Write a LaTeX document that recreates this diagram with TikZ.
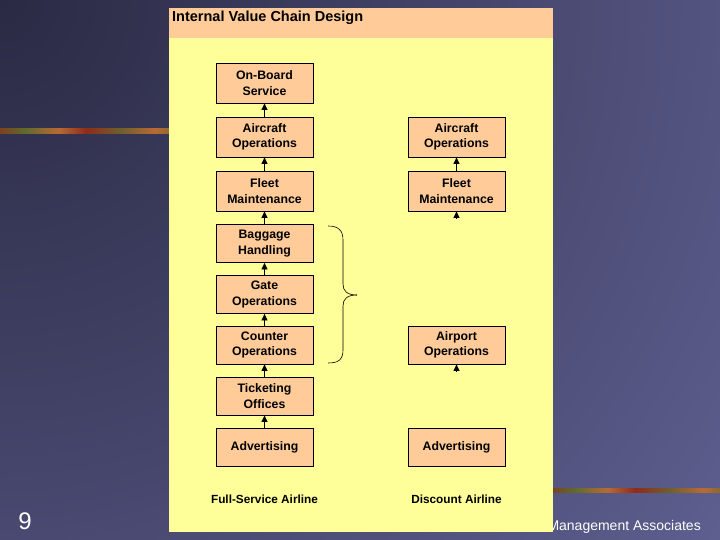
\documentclass[tikz,border=0pt]{standalone}
\usepackage{fontspec}
\setmainfont{Liberation Sans}
\usetikzlibrary{arrows.meta}
\definecolor{bgdark}{HTML}{2A2A44}
\definecolor{bgpurple}{HTML}{646498}
\definecolor{panelyellow}{HTML}{FFFF99}
\definecolor{peach}{HTML}{FFCC99}
\definecolor{sa}{HTML}{A8662E}
\definecolor{sb}{HTML}{6E5E2E}
\definecolor{sc}{HTML}{8E2C1A}
\definecolor{sd}{HTML}{5E6A2C}
\definecolor{se}{HTML}{B86A34}
\definecolor{sf}{HTML}{7A3B20}
\pgfdeclarehorizontalshading{stripshade}{100bp}{color(0bp)=(sa); color(12bp)=(sb); color(22bp)=(sc); color(32bp)=(sd); color(42bp)=(se); color(50bp)=(sc); color(60bp)=(sb); color(70bp)=(se); color(80bp)=(sd); color(90bp)=(sf); color(100bp)=(sa)}
\tikzset{
  chainbox/.style={draw=black, line width=0.8pt, fill=peach, minimum width=97pt, minimum height=38pt, inner sep=0pt, align=center, font=\bfseries\fontsize{12.3}{15.5}\selectfont},
  tallbox/.style={chainbox, minimum height=40pt},
  uparr/.style={draw=black, line width=0.8pt, -{Triangle[width=6pt,length=6.5pt]}},
  airlabel/.style={font=\bfseries\fontsize{11.8}{14}\selectfont, inner sep=0pt},
}
\begin{document}
\begin{tikzpicture}[x=1pt,y=-1pt]
\useasboundingbox (0,0) rectangle (720,540);
% background
\fill[bgpurple] (0,0) rectangle (720,540);
\begin{scope}
\clip (0,0) rectangle (720,540);
\shade[inner color=bgdark, outer color=bgpurple] (0,0) circle (1000);
\end{scope}
% decorative strips
\shade[shading=stripshade] (0,129) rectangle (172,134);
\shade[shading=stripshade] (550,488) rectangle (720,492);
% footer
\node[text=white, font=\fontsize{24}{28}\selectfont, inner sep=0pt, anchor=base] (pagenum) at (25,529) {9};
\node[text=white, font=\fontsize{14}{16}\selectfont, inner sep=0pt, anchor=base east] (footer) at (701,530) {Management Associates};
% panel
\fill[panelyellow] (169,8) rectangle (553,532);
\fill[peach] (169,8) rectangle (553,38);
\node[anchor=base west, inner sep=0pt, font=\bfseries\fontsize{14.5}{16}\selectfont] (title) at (172,22) {Internal Value Chain Design};
% left column
\node[tallbox] (ob) at (264.5,83) {On-Board\\Service};
\node[tallbox] (ao) at (264.5,137) {Aircraft\\Operations};
\node[tallbox] (fm) at (264.5,191) {Fleet\\Maintenance};
\node[chainbox] (bh) at (264.5,243.5) {Baggage\\Handling};
\node[chainbox] (go) at (264.5,294.5) {Gate\\Operations};
\node[chainbox] (co) at (264.5,345) {Counter\\Operations};
\node[chainbox] (to) at (264.5,396) {Ticketing\\Offices};
\node[chainbox] (ad) at (264.5,447) {Advertising};
\draw[uparr] (ao.north) -- (ob.south);
\draw[uparr] (fm.north) -- (ao.south);
\draw[uparr] (bh.north) -- (fm.south);
\draw[uparr] (go.north) -- (bh.south);
\draw[uparr] (co.north) -- (go.south);
\draw[uparr] (to.north) -- (co.south);
\draw[uparr] (ad.north) -- (to.south);
% right column
\node[tallbox] (rao) at (456.5,137) {Aircraft\\Operations};
\node[tallbox] (rfm) at (456.5,191) {Fleet\\Maintenance};
\node[chainbox] (rap) at (456.5,345) {Airport\\Operations};
\node[chainbox] (rad) at (456.5,447) {Advertising};
\coordinate (stubA) at (456.5,219);
\coordinate (stubB) at (456.5,372);
\draw[uparr] (rfm.north) -- (rao.south);
\draw[uparr] (stubA) -- (rfm.south);
\draw[uparr] (stubB) -- (rap.south);
% brace
\draw[black, line width=0.6pt] (328,226) .. controls (338,226) and (343,230) .. (343,240) -- (343,284) .. controls (343,291) and (347,295) .. (357,295);
\draw[black, line width=0.6pt] (357,295) .. controls (347,295) and (343,299) .. (343,306) -- (343,350) .. controls (343,360) and (338,363) .. (328,363);
% bottom labels
\node[airlabel] (fullsvc) at (264.5,499) {Full-Service Airline};
\node[airlabel] (discount) at (456.5,499) {Discount Airline};
\end{tikzpicture}
\end{document}
